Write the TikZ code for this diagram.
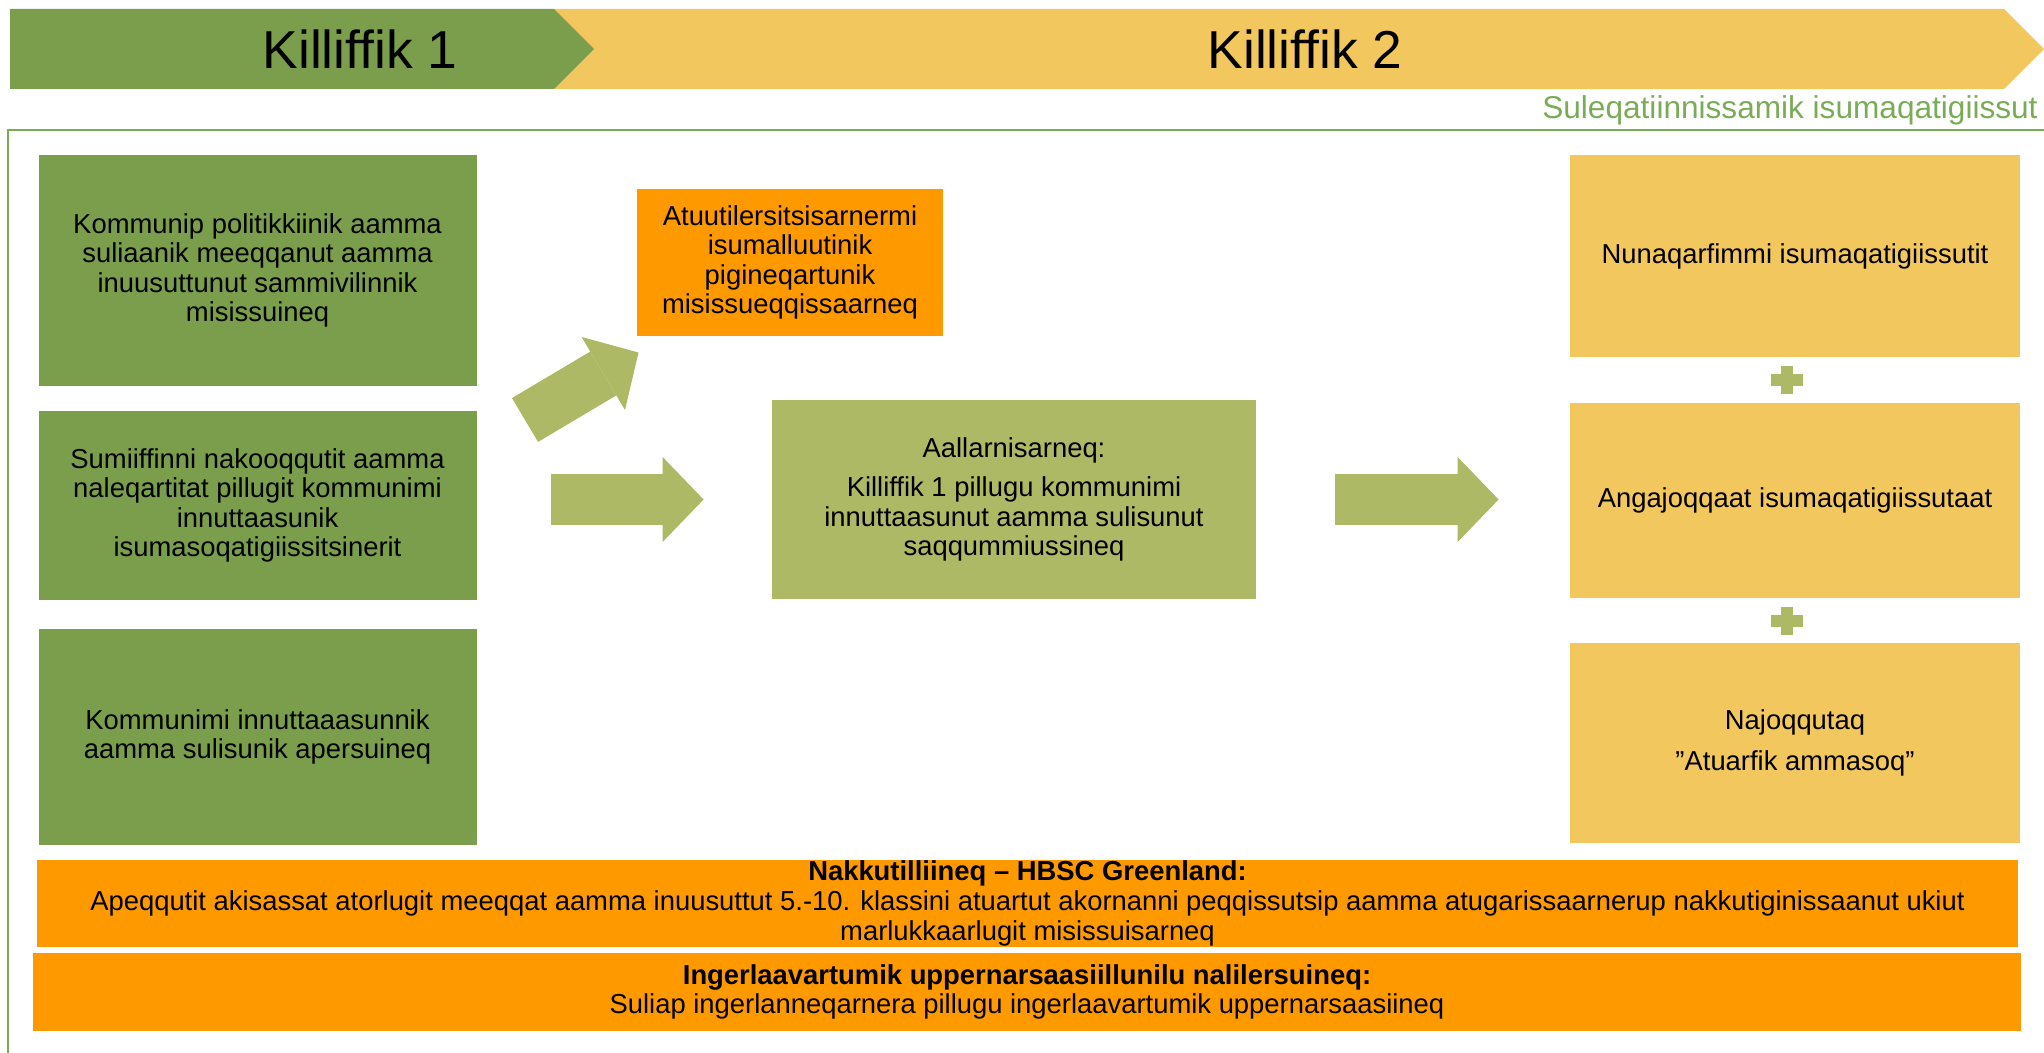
\documentclass[tikz,border=0pt]{standalone}
\usepackage{fontspec}
\setmainfont{Liberation Sans}
\usetikzlibrary{arrows.meta}
\definecolor{darkgreen}{RGB}{122,158,75}
\definecolor{olivegreen}{RGB}{174,185,101}
\definecolor{sandyellow}{RGB}{241,199,94}
\definecolor{brightorange}{RGB}{255,153,0}
\definecolor{framegreen}{RGB}{122,172,88}

\begin{document}
\begin{tikzpicture}[x=0.5pt,y=-0.5pt,
  box/.style={rectangle,inner sep=0pt,align=center,font=\fontsize{13.7}{14.8}\selectfont},
  title/.style={inner sep=0pt,font=\fontsize{26.7}{32}\selectfont},
  blockarrow/.style={draw=olivegreen,line width=25.5pt,-{Triangle[length=20.5pt,width=42.5pt,line width=0pt]}},
  plussign/.style={minimum width=16pt,minimum height=14pt,inner sep=0pt,
    path picture={\fill[olivegreen] ([yshift=-3pt]path picture bounding box.west) rectangle ([yshift=3pt]path picture bounding box.east);
      \fill[olivegreen] ([xshift=-3pt]path picture bounding box.south) rectangle ([xshift=3pt]path picture bounding box.north);}}]
\useasboundingbox (0,0) rectangle (2044,1053);

\fill[sandyellow] (554,9) -- (2004,9) -- (2044,49) -- (2004,89) -- (554,89) -- (594,49) -- cycle;
\fill[darkgreen] (10,9) -- (554,9) -- (594,49) -- (554,89) -- (10,89) -- cycle;
\path (360,49) node[title] (k1) {Killiffik 1};
\path (1305,49) node[title] (k2) {Killiffik 2};
\path (2038,110) node[anchor=east,inner sep=0pt,text=framegreen,font=\fontsize{15.8}{18}\selectfont] (sub) {Suleqatiinnissamik isumaqatigiissut};
\draw[framegreen,line width=1pt] (2044,130) -- (8,130) -- (8,1053);

\path (257.5,270.5) node[box,fill=darkgreen,minimum width=219pt,minimum height=115.5pt] (g1) {Kommunip politikkiinik aamma\\suliaanik meeqqanut aamma\\inuusuttunut sammivilinnik\\misissuineq};
\path (257.5,505.5) node[box,fill=darkgreen,minimum width=219pt,minimum height=94.5pt] (g2) {Sumiiffinni nakooqqutit aamma\\naleqartitat pillugit kommunimi\\innuttaasunik\\isumasoqatigiissitsinerit};
\path (257.5,737) node[box,fill=darkgreen,minimum width=219pt,minimum height=108pt] (g3) {Kommunimi innuttaaasunnik\\aamma sulisunik apersuineq};

\path (790,262.5) node[box,fill=brightorange,minimum width=153pt,minimum height=73.5pt] (warn) {Atuutilersitsisarnermi\\isumalluutinik\\pigineqartunik\\misissueqqissaarneq};
\path (1014,499.5) node[box,fill=olivegreen,minimum width=242pt,minimum height=99.5pt] (aim) {Aallarnisarneq:\\[4.7pt]Killiffik 1 pillugu kommunimi\\innuttaasunut aamma sulisunut\\saqqummiussineq};

\path (1795,256) node[box,fill=sandyellow,minimum width=225pt,minimum height=101pt] (y1) {Nunaqarfimmi isumaqatigiissutit};
\path (1795,500.5) node[box,fill=sandyellow,minimum width=225pt,minimum height=97.5pt] (y2) {Angajoqqaat isumaqatigiissutaat};
\path (1795,743) node[box,fill=sandyellow,minimum width=225pt,minimum height=100pt] (y3) {Najoqqutaq\\[5.7pt]”Atuarfik ammasoq”};
\path (1787,380) node[plussign] (p1) {};
\path (1787,620.5) node[plussign] (p2) {};

\path (1027.5,903.5) node[box,fill=brightorange,minimum width=990.5pt,minimum height=43.5pt] (hbsc) {\textbf{Nakkutilliineq – HBSC Greenland:}\\Apeqqutit akisassat atorlugit meeqqat aamma inuusuttut 5.-10. klassini atuartut akornanni peqqissutsip aamma atugarissaarnerup nakkutiginissaanut ukiut\\marlukkaarlugit misissuisarneq};
\path (1027,992) node[box,fill=brightorange,minimum width=994pt,minimum height=39pt] (eval) {\textbf{Ingerlaavartumik uppernarsaasiillunilu nalilersuineq:}\\Suliap ingerlanneqarnera pillugu ingerlaavartumik uppernarsaasiineq};

\coordinate (dtail) at (525,420);
\draw[blockarrow,shorten >=15.8pt] (dtail) -- (warn);
\draw[blockarrow,shorten <=37pt,shorten >=34pt] (g2.east |- aim) -- (aim.west);
\draw[blockarrow,shorten <=39.5pt,shorten >=35.5pt] (aim.east) -- (aim.east -| y2.west);
\end{tikzpicture}
\end{document}
